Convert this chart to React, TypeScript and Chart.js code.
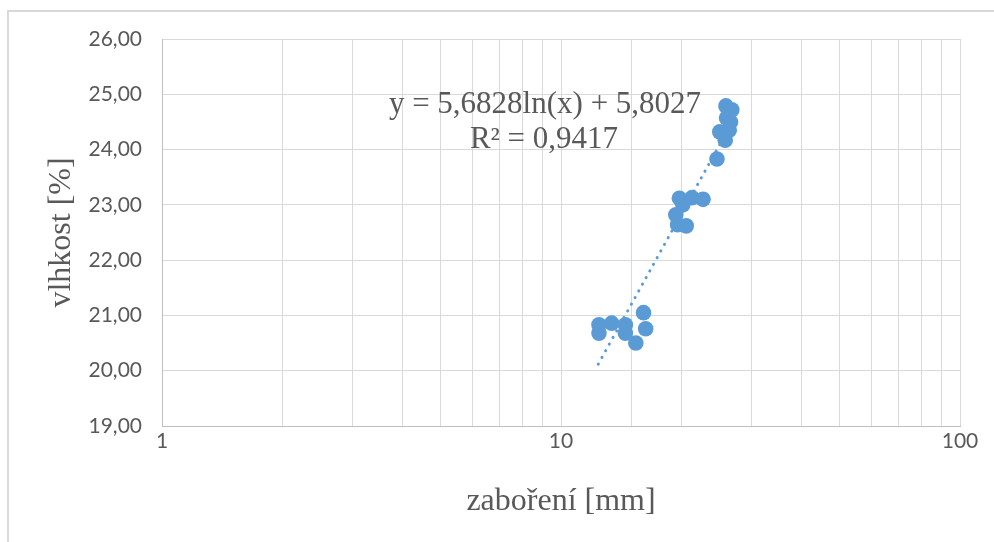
import React, { useEffect, useRef } from "react";
import { Chart, registerables } from "chart.js";

Chart.register(...registerables);

const pointX = [12.45, 12.45, 13.4, 14.5, 14.5, 15.4, 16.1, 16.3, 19.4, 19.6, 19.8, 20.6, 20.2, 21.3, 22.7, 24.6, 25.0, 25.9, 26.0, 26.8, 26.4, 25.8, 26.6];
const pointY = [20.83, 20.68, 20.86, 20.83, 20.68, 20.50, 21.05, 20.76, 22.82, 22.64, 23.12, 22.62, 23.00, 23.13, 23.10, 23.83, 24.32, 24.79, 24.57, 24.72, 24.35, 24.17, 24.50];
const trendX = [12.4, 27.0];
const trendY = [20.12, 24.53];
const equationLines = ["y = 5,6828ln(x) + 5,8027", "R² = 0,9417"];
const xTitle = "zaboření [mm]";
const yTitle = "vlhkost [%]";
const xLabelTicks = [1, 10, 100];

const BLUE = "#5b9bd5";
const GRID = "#d9d9d9";
const TEXT = "#595959";

export default function App() {
  const ref = useRef<HTMLCanvasElement | null>(null);
  useEffect(() => {
    if (!ref.current) return;
    const eqPlugin = {
      id: "eq",
      afterDatasetsDraw(chart: any) {
        const ctx = chart.ctx;
        ctx.save();
        ctx.font = "31px 'Liberation Serif'";
        ctx.fillStyle = TEXT;
        ctx.textAlign = "center";
        ctx.textBaseline = "alphabetic";
        ctx.fillText(equationLines[0], 545, 113);
        ctx.fillText(equationLines[1], 544, 148);
        ctx.restore();
      },
    };
    const chart = new Chart(ref.current, {
      type: "scatter",
      data: {
        datasets: [
          {
            label: "data",
            data: pointX.map((x, i) => ({ x, y: pointY[i] })),
            backgroundColor: BLUE,
            borderColor: BLUE,
            borderWidth: 0,
            pointRadius: 7.8,
            order: 0,
          },
          {
            label: "trend",
            type: "line",
            data: trendX.map((x, i) => ({ x, y: trendY[i] })),
            borderColor: BLUE,
            borderWidth: 3,
            borderDash: [0.1, 7.5],
            borderCapStyle: "round",
            pointRadius: 0,
            fill: false,
            order: 1,
          } as any,
        ],
      },
      options: {
        animation: false,
        responsive: false,
        devicePixelRatio: 1,
        layout: { padding: { left: 0, top: 39, right: 34, bottom: 0 } },
        plugins: { legend: { display: false }, tooltip: { enabled: false } },
        scales: {
          x: {
            type: "logarithmic",
            min: 1,
            max: 100,
            afterFit: (s: any) => {
              s.height = 116;
            },
            grid: { color: GRID, lineWidth: 1, drawTicks: false },
            border: { color: "#bfbfbf", width: 1 },
            ticks: {
              autoSkip: false,
              maxRotation: 0,
              padding: 3,
              color: TEXT,
              font: { family: "Lato", size: 21 },
              callback: (v: any) => (xLabelTicks.includes(Number(v)) ? String(v) : ""),
            },
            title: {
              display: true,
              text: xTitle,
              color: TEXT,
              font: { family: "'Liberation Serif'", size: 32 },
              padding: { top: 0, bottom: 21 },
            },
          },
          y: {
            min: 19,
            max: 26,
            afterFit: (s: any) => {
              s.width = 162;
            },
            grid: { color: GRID, lineWidth: 1, drawTicks: false },
            border: { color: "#bfbfbf", width: 1 },
            ticks: {
              stepSize: 1,
              padding: 20,
              color: TEXT,
              font: { family: "Lato", size: 21 },
              callback: (v: any) => Number(v).toFixed(2).replace(".", ","),
            },
            title: {
              display: true,
              text: yTitle,
              color: TEXT,
              font: { family: "'Liberation Serif'", size: 32 },
              padding: { top: 42, bottom: 0 },
            },
          },
        },
      },
      plugins: [eqPlugin],
    } as any);
    return () => chart.destroy();
  }, []);
  return (
    <div style={{ position: "fixed", left: 0, top: 0, width: 994, height: 542, background: "#fff" }}>
      <div
        style={{
          position: "absolute",
          left: 7,
          top: 10,
          right: 0,
          bottom: 0,
          borderTop: "2px solid #d9d9d9",
          borderLeft: "2px solid #d9d9d9",
        }}
      />
      <canvas ref={ref} width={994} height={542} style={{ position: "absolute", left: 0, top: 0 }} />
    </div>
  );
}
